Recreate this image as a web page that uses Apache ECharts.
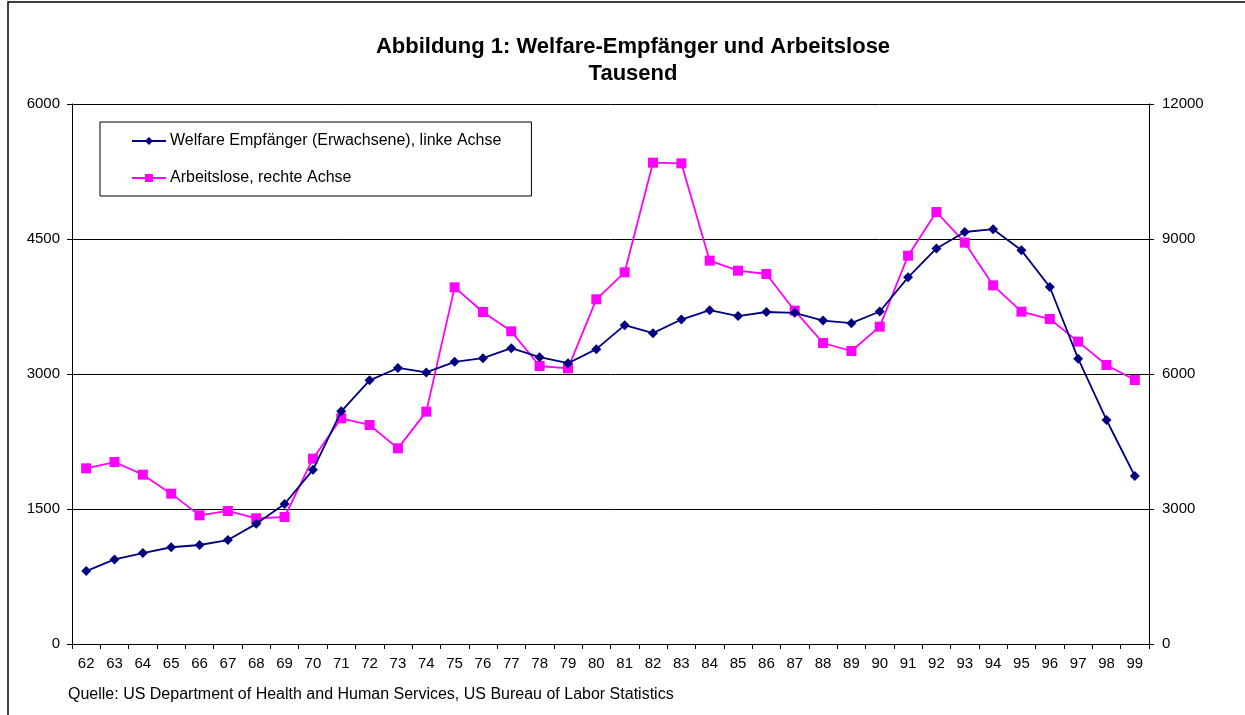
<!DOCTYPE html>
<html>
<head>
<meta charset="utf-8">
<title>Welfare-Empfänger und Arbeitslose</title>
<script src="https://cdn.jsdelivr.net/npm/echarts@6/dist/echarts.min.js"></script>
<style>
  html, body { margin: 0; padding: 0; background: #fff; }
  #chart { width: 1245px; height: 715px; }
</style>
</head>
<body>
<div id="chart"></div>
<script>
// years 1962 - 1999
var years = ['62', '63', '64', '65', '66', '67', '68', '69', '70', '71',
  '72', '73', '74', '75', '76', '77', '78', '79', '80', '81',
  '82', '83', '84', '85', '86', '87', '88', '89', '90', '91',
  '92', '93', '94', '95', '96', '97', '98', '99']

// Welfare Empfänger (Erwachsene), linke Achse
var welfare = [810, 940, 1010, 1075, 1100, 1155, 1335, 1555, 1935, 2585,
  2930, 3067, 3018, 3135, 3176, 3287, 3187, 3120, 3276, 3543,
  3454, 3605, 3709, 3644, 3689, 3680, 3594, 3565, 3694, 4074,
  4395, 4578, 4609, 4374, 3967, 3170, 2489, 1867]

// Arbeitslose, rechte Achse
var arbeitslose = [3904, 4044, 3763, 3341, 2859, 2956, 2793, 2822, 4118, 5015,
  4867, 4348, 5163, 7926, 7378, 6948, 6178, 6126, 7660, 8259,
  10696, 10681, 8519, 8296, 8222, 7407, 6689, 6511, 7052, 8630,
  9600, 8919, 7970, 7385, 7222, 6719, 6200, 5867]

var font = 'Arial, "Liberation Sans", sans-serif'

// plain numbers, no thousands separator
function plain(v) {
  return String(v)
}

var chart = echarts.init(document.getElementById('chart'))

chart.setOption({
  backgroundColor: '#fff',
  animation: false,
  textStyle: { fontFamily: font },
  title: {
    text: 'Abbildung 1: Welfare-Empfänger und Arbeitslose\nTausend',
    left: 628,
    textAlign: 'center',
    top: 28,
    textStyle: {
      fontFamily: font,
      fontSize: 22,
      fontWeight: 'bold',
      color: '#000',
      lineHeight: 27
    }
  },
  graphic: [
    {
      type: 'rect',
      shape: { x: 8, y: 2, width: 1300, height: 800 },
      style: { fill: 'none', stroke: '#000', lineWidth: 1.5 },
      silent: true
    },
    {
      type: 'text',
      left: 68,
      top: 687,
      style: {
        text: 'Quelle: US Department of Health and Human Services, US Bureau of Labor Statistics',
        font: '16px ' + font,
        fill: '#000'
      }
    }
  ],
  legend: {
    orient: 'vertical',
    left: 100,
    top: 122,
    padding: [11, 30, 10, 31],
    itemGap: 21,
    itemWidth: 34,
    itemHeight: 10,
    borderColor: '#000',
    borderWidth: 1,
    backgroundColor: '#fff',
    textStyle: { fontFamily: font, fontSize: 16, color: '#000', padding: [0, 0, 0, -1] },
    data: ['Welfare Empfänger (Erwachsene), linke Achse', 'Arbeitslose, rechte Achse']
  },
  grid: {
    left: 72,
    right: 96,
    top: 104,
    bottom: 71
  },
  xAxis: {
    type: 'category',
    data: years,
    boundaryGap: true,
    axisLine: { lineStyle: { color: '#000', width: 1 } },
    axisTick: { show: true, inside: false, length: 5, alignWithLabel: false, lineStyle: { color: '#000' } },
    axisLabel: { color: '#000', fontSize: 15, margin: 12, fontFamily: font },
    splitLine: { show: false }
  },
  yAxis: [
    {
      type: 'value',
      position: 'left',
      min: 0,
      max: 6000,
      interval: 1500,
      axisLine: { show: true, lineStyle: { color: '#000', width: 1 } },
      axisTick: { show: true, length: 5, lineStyle: { color: '#000' } },
      axisLabel: { color: '#000', fontSize: 15, margin: 12, fontFamily: font, formatter: plain },
      splitLine: { show: true, lineStyle: { color: '#000', width: 1 } }
    },
    {
      type: 'value',
      position: 'right',
      min: 0,
      max: 12000,
      interval: 3000,
      axisLine: { show: true, lineStyle: { color: '#000', width: 1 } },
      axisTick: { show: true, length: 5, lineStyle: { color: '#000' } },
      axisLabel: { color: '#000', fontSize: 15, margin: 13, fontFamily: font, formatter: plain },
      splitLine: { show: false }
    }
  ],
  series: [
    {
      name: 'Welfare Empfänger (Erwachsene), linke Achse',
      type: 'line',
      yAxisIndex: 0,
      data: welfare,
      color: '#000080',
      symbol: 'diamond',
      symbolSize: 10,
      showAllSymbol: true,
      lineStyle: { color: '#000080', width: 1.8 },
      itemStyle: { color: '#000080' },
      z: 3
    },
    {
      name: 'Arbeitslose, rechte Achse',
      type: 'line',
      yAxisIndex: 1,
      data: arbeitslose,
      color: '#ff00ff',
      symbol: 'rect',
      symbolSize: 10,
      showAllSymbol: true,
      lineStyle: { color: '#ff00ff', width: 1.8 },
      itemStyle: { color: '#ff00ff' },
      z: 2
    }
  ]
})
</script>
</body>
</html>
